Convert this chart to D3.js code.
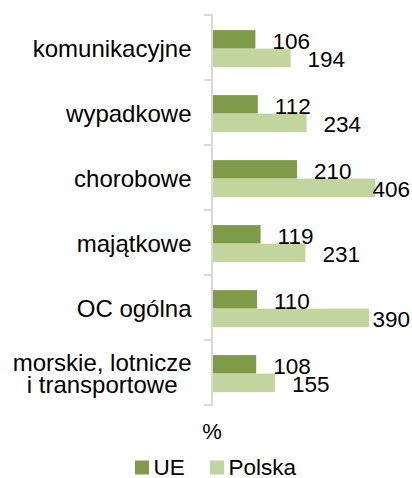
<!DOCTYPE html>
<html>
<head>
<meta charset="utf-8">
<script src="https://cdn.jsdelivr.net/npm/d3@7/dist/d3.min.js"></script>
<style>
  html, body { margin: 0; padding: 0; background: #fff; }
  svg { display: block; }
  text { font-family: "Liberation Sans", Arial, sans-serif; fill: #000; }
</style>
</head>
<body>
<svg id="chart" width="412" height="478"></svg>
<script>
const categories = ["komunikacyjne", "wypadkowe", "chorobowe", "majątkowe", "OC ogólna", "morskie, lotnicze\ni transportowe"];
const seriesNames = ["UE", "Polska"];
const ueValues = [106, 112, 210, 119, 110, 108];
const polskaValues = [194, 234, 406, 231, 390, 155];
const axisUnit = "%";
const colors = ["#7F9B4A", "#C2D59F"];

const svg = d3.select("#chart");
const W = 412;

const axisX = 212;
const x = d3.scaleLinear().domain([0, 450]).range([axisX + 1, axisX + 1 + 180]);
const y = d3.scaleBand().domain(categories).range([15, 405])
  .paddingInner(0.43).paddingOuter(0.215).align(0.54);
const ySub = d3.scaleBand().domain(seriesNames).range([0, y.bandwidth()]).padding(0);

const data = categories.map((c, i) => ({ cat: c, values: [ueValues[i], polskaValues[i]] }));

// axis line and ticks
const axisG = svg.append("g");
axisG.append("line")
  .attr("x1", axisX).attr("x2", axisX)
  .attr("y1", y.range()[0]).attr("y2", y.range()[1] + 1)
  .attr("stroke", "#d9d9d9").attr("stroke-width", 2);
d3.range(categories.length + 1).forEach(i => {
  const ty = y.range()[0] + i * y.step();
  axisG.append("line")
    .attr("x1", axisX - 8).attr("x2", axisX)
    .attr("y1", ty).attr("y2", ty)
    .attr("stroke", "#d9d9d9").attr("stroke-width", 2);
});

// bars
const groups = svg.append("g").selectAll("g.cat").data(data).enter().append("g")
  .attr("class", "cat")
  .attr("transform", d => `translate(0,${y(d.cat)})`);

groups.selectAll("rect").data(d => d.values.map((v, j) => ({ v, s: seriesNames[j], j })))
  .enter().append("rect")
  .attr("x", x(0))
  .attr("y", d => ySub(d.s))
  .attr("width", d => x(d.v) - x(0))
  .attr("height", ySub.bandwidth())
  .attr("fill", d => colors[d.j]);

// value labels
groups.selectAll("text.val").data(d => d.values.map((v, j) => ({ v, s: seriesNames[j], j })))
  .enter().append("text")
  .attr("class", "val")
  .attr("font-size", "22.5px")
  .attr("y", d => ySub(d.s) + ySub.bandwidth())
  .text(d => d.v)
  .each(function(d) {
    const w = this.getComputedTextLength();
    let tx = x(d.v) + 17;
    if (tx + w > W - 2) tx = W - 2 - w;
    d3.select(this).attr("x", tx);
  });

// category labels
const labelRight = 191.5;
data.forEach(d => {
  const lines = d.cat.split("\n");
  const cy = y(d.cat) + y.bandwidth() / 2;
  const lh = 22;
  const t = svg.append("text").attr("font-size", "24px");
  const tspans = lines.map((ln, k) => t.append("tspan")
    .attr("y", cy + 8 + (k - (lines.length - 1) / 2) * lh)
    .text(ln));
  const widths = tspans.map(ts => ts.node().getComputedTextLength());
  const maxW = d3.max(widths);
  t.attr("text-anchor", "middle");
  tspans.forEach(ts => ts.attr("x", labelRight - maxW / 2));
});

// axis unit
svg.append("text")
  .attr("x", axisX).attr("y", 439)
  .attr("text-anchor", "middle")
  .attr("font-size", "22px")
  .text(axisUnit);

// legend
const legendItems = [
  { name: seriesNames[0], color: colors[0], x: 135 },
  { name: seriesNames[1], color: colors[1], x: 210 }
];
const lg = svg.append("g");
legendItems.forEach(li => {
  lg.append("rect").attr("x", li.x).attr("y", 460.5).attr("width", 14).attr("height", 14).attr("fill", li.color);
  lg.append("text").attr("x", li.x + 18.5).attr("y", 474.5).attr("font-size", "22.5px").text(li.name);
});
</script>
</body>
</html>
